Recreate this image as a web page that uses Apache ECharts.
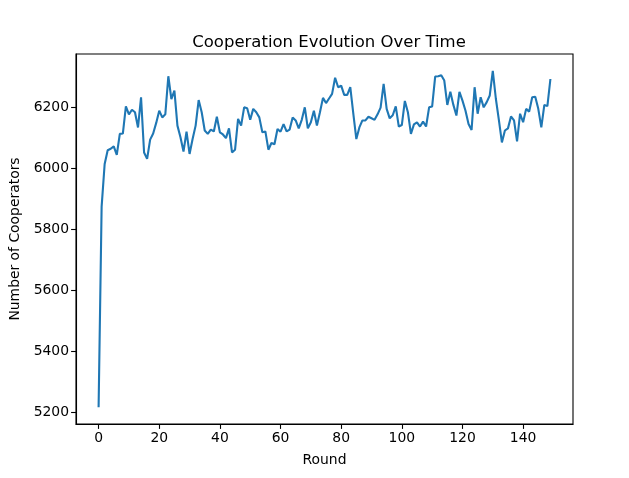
<!DOCTYPE html>
<html>
<head>
<meta charset="utf-8">
<script src="https://cdn.jsdelivr.net/npm/echarts@6/dist/echarts.min.js"></script>
<style>html,body{margin:0;padding:0;background:#fff}#c{width:629px;height:478px}</style>
</head>
<body>
<div id="c"></div>
<script>
const rounds = Array.from({length: 150}, (_, i) => i);
const cooperators = [
5217,5875,6015,6060,6065,6073,6045,6114,6115,6204,
6178,6193,6185,6135,6234,6053,6032,6095,6115,6150,
6190,6168,6178,6303,6228,6256,6141,6103,6056,6121,
6048,6097,6141,6225,6185,6125,6114,6128,6122,6170,
6119,6112,6100,6132,6053,6062,6163,6141,6201,6198,
6160,6196,6185,6168,6119,6122,6062,6084,6080,6130,
6121,6146,6122,6128,6168,6158,6132,6160,6201,6132,
6152,6190,6141,6185,6232,6215,6230,6245,6298,6267,
6272,6242,6242,6267,6180,6097,6135,6158,6158,6170,
6165,6160,6178,6200,6278,6196,6165,6175,6204,6138,
6143,6222,6185,6114,6145,6152,6138,6154,6138,6201,
6204,6302,6303,6306,6289,6209,6252,6209,6174,6252,
6223,6190,6146,6127,6267,6180,6234,6201,6218,6240,
6321,6230,6160,6086,6125,6132,6171,6158,6089,6180,
6152,6196,6187,6234,6236,6196,6135,6209,6205,6294
];
const xTicks = [0, 20, 40, 60, 80, 100, 120, 140];
const yTicks = [5200, 5400, 5600, 5800, 6000, 6200];
const titleText = 'Cooperation Evolution Over Time';
const xName = 'Round';
const yName = 'Number of Cooperators';

const font = 'DejaVu Sans';
const chart = echarts.init(document.getElementById('c'), null, {renderer: 'canvas'});
chart.setOption({
  animation: false,
  backgroundColor: '#fff',
  title: {
    text: titleText, left: 324, top: 29, textAlign: 'center',
    textStyle: {fontFamily: font, fontSize: 16.5, fontWeight: 'normal', color: '#000'}
  },
  grid: {left: 76, right: 56, top: 54, bottom: 54, show: true, borderColor: '#000', borderWidth: 1.1, containLabel: false},
  xAxis: {
    type: 'value', min: -7.45, max: 156.45,
    name: xName, nameLocation: 'middle', nameGap: 29,
    nameTextStyle: {fontFamily: font, fontSize: 13.9, color: '#000'},
    axisLine: {show: true, onZero: false, lineStyle: {color: '#000', width: 1.1}},
    axisTick: {show: true, length: 4.9, customValues: xTicks, lineStyle: {color: '#000', width: 1.1}},
    axisLabel: {customValues: xTicks, margin: 7, fontFamily: font, fontSize: 13.9, color: '#000', formatter: v => String(v)},
    splitLine: {show: false}
  },
  yAxis: {
    type: 'value', min: 5162, max: 6376,
    name: yName, nameLocation: 'middle', nameGap: 53,
    nameTextStyle: {fontFamily: font, fontSize: 13.9, color: '#000'},
    axisLine: {show: true, onZero: false, lineStyle: {color: '#000', width: 1.1}},
    axisTick: {show: true, length: 4.9, customValues: yTicks, lineStyle: {color: '#000', width: 1.1}},
    axisLabel: {customValues: yTicks, margin: 7, fontFamily: font, fontSize: 13.9, color: '#000', formatter: v => String(v)},
    splitLine: {show: false}
  },
  series: [{
    type: 'line',
    data: rounds.map((r, i) => [r, cooperators[i]]),
    showSymbol: false,
    lineStyle: {color: '#1f77b4', width: 2.1},
    itemStyle: {color: '#1f77b4'}
  }]
});
</script>
</body>
</html>
